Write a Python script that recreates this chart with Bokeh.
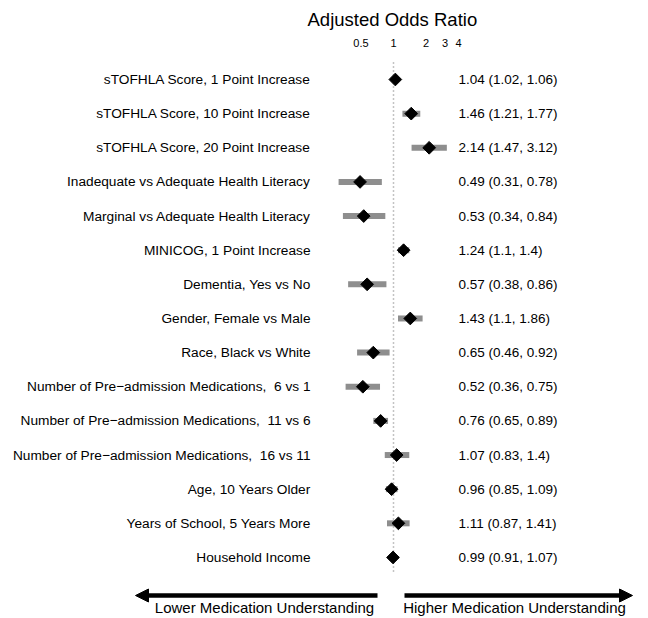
import math
from bokeh.plotting import figure
from bokeh.models import Range1d, FixedTicker, Arrow, NormalHead, ColumnDataSource
from bokeh.core.properties import value
from bokeh.embed import file_html
from bokeh.resources import INLINE

labels = [
    "sTOFHLA Score, 1 Point Increase",
    "sTOFHLA Score, 10 Point Increase",
    "sTOFHLA Score, 20 Point Increase",
    "Inadequate vs Adequate Health Literacy",
    "Marginal vs Adequate Health Literacy",
    "MINICOG, 1 Point Increase",
    "Dementia, Yes vs No",
    "Gender, Female vs Male",
    "Race, Black vs White",
    "Number of Pre\u2212admission Medications,\u00a0 6 vs 1",
    "Number of Pre\u2212admission Medications,\u00a0 11 vs 6",
    "Number of Pre\u2212admission Medications,\u00a0 16 vs 11",
    "Age, 10 Years Older",
    "Years of School, 5 Years More",
    "Household Income",
]
odds = [1.04, 1.46, 2.14, 0.49, 0.53, 1.24, 0.57, 1.43, 0.65, 0.52, 0.76, 1.07, 0.96, 1.11, 0.99]
lower = [1.02, 1.21, 1.47, 0.31, 0.34, 1.1, 0.38, 1.1, 0.46, 0.36, 0.65, 0.83, 0.85, 0.87, 0.91]
upper = [1.06, 1.77, 3.12, 0.78, 0.84, 1.4, 0.86, 1.86, 0.92, 0.75, 0.89, 1.4, 1.09, 1.41, 1.07]
est_text = ["1.04 (1.02, 1.06)", "1.46 (1.21, 1.77)", "2.14 (1.47, 3.12)", "0.49 (0.31, 0.78)",
            "0.53 (0.34, 0.84)", "1.24 (1.1, 1.4)", "0.57 (0.38, 0.86)", "1.43 (1.1, 1.86)",
            "0.65 (0.46, 0.92)", "0.52 (0.36, 0.75)", "0.76 (0.65, 0.89)", "1.07 (0.83, 1.4)",
            "0.96 (0.85, 1.09)", "1.11 (0.87, 1.41)", "0.99 (0.91, 1.07)"]
tick_values = [0.5, 1, 2, 3, 4]
tick_labels = {0.5: "0.5", 1: "1", 2: "2", 3: "3", 4: "4"}

W, H = 648, 618
K = 32.5 / math.log(2)        # px per ln unit
X1 = 393                      # frame px of OR = 1
ln_a = -X1 / K
ln_b = ln_a + W / K

def xd(px):
    return math.exp(ln_a + px / K)

rows = list(range(1, len(labels) + 1))
ROW = 34.14
ROW1 = 79
FRAME_TOP = 60
ytop = 1 - (ROW1 - FRAME_TOP) / ROW
ybot = ytop + (H - FRAME_TOP) / ROW

def yd(py):  # figure px -> data
    return 1 + (py - ROW1) / ROW

p = figure(width=W, height=H, x_axis_type="log", x_axis_location="above",
           x_range=Range1d(math.exp(ln_a), math.exp(ln_b)),
           y_range=Range1d(ybot, ytop),
           title="Adjusted Odds Ratio",
           output_backend="svg", toolbar_location=None,
           min_border_left=0, min_border_right=0, min_border_top=FRAME_TOP, min_border_bottom=0)
p.outline_line_color = None
p.grid.visible = False
p.yaxis.visible = False
p.background_fill_color = "white"

p.title.align = "left"
p.title.offset = 307
p.title.text_font = "Liberation Sans"
p.title.text_font_size = "18.5px"
p.title.text_font_style = "normal"
p.title.text_color = "black"
p.title.standoff = 11

ax = p.xaxis[0]
ax.ticker = FixedTicker(ticks=tick_values)
ax.major_label_overrides = tick_labels
ax.major_label_text_font = "Liberation Sans"
ax.major_label_text_font_size = "11px"
ax.major_label_text_color = "black"
ax.major_label_standoff = 14
ax.axis_line_color = None
ax.major_tick_line_color = None
ax.minor_tick_line_color = None
ax.major_tick_out = 0
ax.major_tick_in = 0

src = ColumnDataSource(dict(y=rows, odds=odds, lo=lower, hi=upper, lab=labels, est=est_text))

# reference line
p.segment(x0=1, x1=1, y0=yd(62), y1=yd(574), line_color="#888888",
          line_dash="1 3", line_width=1.5)

p.hbar(y="y", left="lo", right="hi", height=6 / ROW, source=src,
       fill_color="#8e8e8e", line_color=None)
p.scatter(x="odds", y="y", source=src, marker="square", angle=math.pi / 4,
          size=9, fill_color="black", line_color="black")

p.text(x=xd(310), y="y", text="lab", source=src, text_align="right", text_baseline="middle",
       text_font=value("Liberation Sans"), text_font_size="13.7px", text_color="black")
p.text(x=xd(458), y="y", text="est", source=src, text_align="left", text_baseline="middle",
       text_font=value("Liberation Sans"), text_font_size="13.5px", text_color="black")

# arrows
ya = yd(595)
p.add_layout(Arrow(x_start=xd(377), y_start=ya, x_end=xd(135), y_end=ya, line_width=4.5,
                   line_color="black",
                   end=NormalHead(size=13, fill_color="black", line_color="black")))
p.add_layout(Arrow(x_start=xd(404), y_start=ya, x_end=xd(632), y_end=ya, line_width=4.5,
                   line_color="black",
                   end=NormalHead(size=13, fill_color="black", line_color="black")))

yt = yd(607)
p.text(x=[xd(264)], y=[yt], text=["Lower Medication Understanding"], text_align="center",
       text_baseline="middle", text_font=value("Liberation Sans"), text_font_size="15px",
       text_color="black")
p.text(x=[xd(514)], y=[yt], text=["Higher Medication Understanding"], text_align="center",
       text_baseline="middle", text_font=value("Liberation Sans"), text_font_size="15px",
       text_color="black")

open("out.html", "w").write(file_html(p, INLINE))
